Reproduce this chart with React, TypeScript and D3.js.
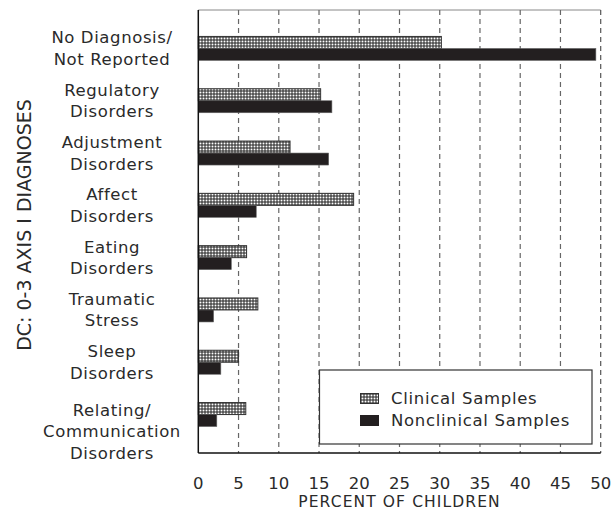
import React from "react";
import * as d3 from "d3";

const categories: string[][] = [
  ["No Diagnosis/", "Not Reported"],
  ["Regulatory", "Disorders"],
  ["Adjustment", "Disorders"],
  ["Affect", "Disorders"],
  ["Eating", "Disorders"],
  ["Traumatic", "Stress"],
  ["Sleep", "Disorders"],
  ["Relating/", "Communication", "Disorders"],
];
const clinical = [30.2, 15.2, 11.4, 19.3, 6.0, 7.4, 5.0, 5.9];
const nonclinical = [49.4, 16.6, 16.2, 7.2, 4.1, 1.9, 2.8, 2.3];
const xTicks = [0, 5, 10, 15, 20, 25, 30, 35, 40, 45, 50];
const seriesNames = ["Clinical Samples", "Nonclinical Samples"];

const W = 613;
const H = 511;
const left = 198.3;
const right = 600.7;
const top = 10;
const bottom = 453;
const FONT = "'DejaVu Sans', sans-serif";
const TXT = "#2a2a2a";

export default function App() {
  const x = d3.scaleLinear().domain([0, 50]).range([left, right]);
  const y = d3
    .scaleBand<number>()
    .domain(categories.map((_, i) => i))
    .range([top, bottom])
    .paddingInner(0)
    .paddingOuter(0.235);
  const barH = 12;

  return (
    <div style={{ position: "absolute", left: 0, top: 0 }}>
      <svg width={W} height={H} style={{ display: "block", background: "#fff" }}>
        <defs>
          <pattern id="grid" width={3} height={3} patternUnits="userSpaceOnUse" x={0.5} y={0.5}>
            <rect width={3} height={3} fill="#fff" />
            <path d="M0,0.5H3M0.5,0V3" stroke="#222" strokeWidth={1} />
          </pattern>
        </defs>
        {/* top border */}
        <line x1={left} x2={right} y1={top} y2={top} stroke="#888" strokeWidth={1} />
        {/* gridlines */}
        {xTicks.slice(1).map((t) => (
          <line
            key={t}
            x1={x(t)}
            x2={x(t)}
            y1={top}
            y2={bottom}
            stroke={t === 50 ? "#555" : "#666"}
            strokeWidth={1.2}
            strokeDasharray="5,4"
          />
        ))}
        {/* bars */}
        {categories.map((_, i) => {
          const c = (y(i) as number) + y.bandwidth() / 2;
          return (
            <g key={i}>
              <rect
                x={x(0)}
                y={c - barH}
                width={x(clinical[i]) - x(0)}
                height={barH}
                fill="url(#grid)"
                stroke="#333"
                strokeWidth={1}
              />
              <rect
                x={x(0)}
                y={c}
                width={x(nonclinical[i]) - x(0)}
                height={barH}
                fill="#231f20"
                stroke="#666"
                strokeWidth={0.6}
              />
            </g>
          );
        })}
        {/* axes */}
        <line x1={left} x2={left} y1={top} y2={bottom} stroke="#111" strokeWidth={1.5} />
        <line x1={left} x2={right} y1={bottom} y2={bottom} stroke="#111" strokeWidth={1.5} />
        {/* x tick labels */}
        {xTicks.map((t) => (
          <text
            key={t}
            x={x(t)}
            y={489}
            textAnchor="middle"
            fontFamily={FONT}
            fontSize={16.5}
            fill={TXT}
          >
            {t}
          </text>
        ))}
        <text
          x={x(25)}
          y={507}
          textAnchor="middle"
          fontFamily={FONT}
          fontSize={15.5}
          letterSpacing={1.1}
          fill={TXT}
        >
          PERCENT OF CHILDREN
        </text>
        {/* category labels */}
        {categories.map((lines, i) => {
          const c = (y(i) as number) + y.bandwidth() / 2;
          const start = c - 5 + (lines.length > 2 ? 6 : 0);
          return (
            <text
              key={i}
              textAnchor="middle"
              fontFamily={FONT}
              fontSize={16.5}
              letterSpacing={0.6}
              fill={TXT}
            >
              {lines.map((l, j) => (
                <tspan key={j} x={112} y={start + j * 21.5}>
                  {l}
                </tspan>
              ))}
            </text>
          );
        })}
        {/* y title */}
        <text
          transform={`translate(31,${225}) rotate(-90)`}
          textAnchor="middle"
          fontFamily={FONT}
          fontSize={19}
          fill={TXT}
        >
          DC: 0-3 AXIS I DIAGNOSES
        </text>
        {/* legend */}
        <rect x={319.5} y={370} width={272.5} height={74} fill="#fff" stroke="#333" strokeWidth={1.2} />
        <rect x={360.5} y={393.5} width={18} height={10} fill="url(#grid)" stroke="#333" strokeWidth={1} />
        <rect x={360} y={415} width={19} height={11} fill="#231f20" />
        <text x={391} y={404} fontFamily={FONT} fontSize={16.5} letterSpacing={0.7} fill={TXT}>
          {seriesNames[0]}
        </text>
        <text x={391} y={426} fontFamily={FONT} fontSize={16.5} letterSpacing={0.7} fill={TXT}>
          {seriesNames[1]}
        </text>
      </svg>
    </div>
  );
}
